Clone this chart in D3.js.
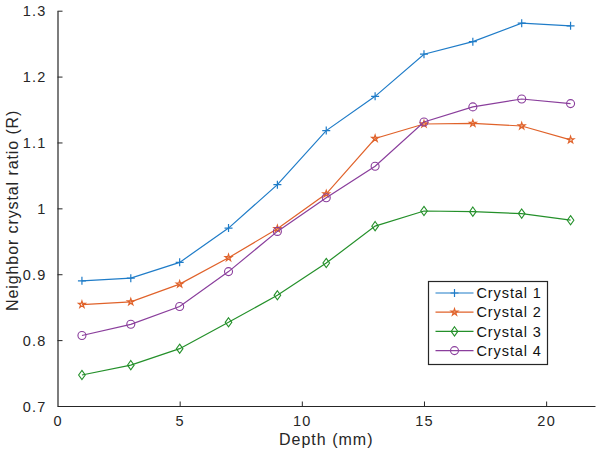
<!DOCTYPE html>
<html>
<head>
<meta charset="utf-8">
<script src="https://cdn.jsdelivr.net/npm/d3@7"></script>
<style>
  html, body { margin: 0; padding: 0; background: #fff; }
  svg { display: block; font-family: "Liberation Sans", Arial, Helvetica, sans-serif; }
</style>
</head>
<body>
<svg id="chart" width="600" height="452"></svg>
<script>
// ---- data ----
const depths = [1, 3, 5, 7, 9, 11, 13, 15, 17, 19, 21];
const crystal1 = [0.890, 0.894, 0.918, 0.970, 1.036, 1.118, 1.170, 1.234, 1.253, 1.281, 1.277];
const crystal2 = [0.854, 0.858, 0.885, 0.925, 0.969, 1.022, 1.106, 1.128, 1.129, 1.125, 1.104];
const crystal3 = [0.747, 0.762, 0.787, 0.827, 0.868, 0.917, 0.973, 0.996, 0.995, 0.992, 0.982];
const crystal4 = [0.807, 0.824, 0.851, 0.904, 0.965, 1.016, 1.064, 1.131, 1.154, 1.166, 1.159];
const seriesNames = ["Crystal 1", "Crystal 2", "Crystal 3", "Crystal 4"];
const xTicks = [0, 5, 10, 15, 20];
const yTicks = [0.7, 0.8, 0.9, 1.0, 1.1, 1.2, 1.3];
const xLabel = "Depth (mm)";
const yLabel = "Neighbor crystal ratio (R)";

// ---- styles ----
const colors = ["#1f7cc8", "#e0622a", "#24902a", "#8a3e9c"];
const markers = ["plus", "star", "diamond", "circle"];
const axisColor = "#262626";

const svg = d3.select("#chart");
const margin = { left: 57.5, right: 5, top: 10.7, bottom: 46 };
const W = 600, H = 452;

const x = d3.scaleLinear().domain([0, 22]).range([margin.left, W - margin.right]);
const y = d3.scaleLinear().domain([0.7, 1.3]).range([H - margin.bottom, margin.top]);

const series = [crystal1, crystal2, crystal3, crystal4].map((vals, i) => ({
  name: seriesNames[i], color: colors[i], marker: markers[i],
  points: depths.map((d, j) => ({ x: d, y: vals[j] }))
}));

// ---- axes ----
const xAxis = d3.axisBottom(x).tickValues(xTicks).tickSizeInner(-4.5).tickSizeOuter(0)
  .tickFormat(d3.format("d")).tickPadding(12);
const yAxis = d3.axisLeft(y).tickValues(yTicks).tickSizeInner(-5).tickSizeOuter(0)
  .tickFormat(d => d === 1 ? "1" : d3.format(".1f")(d)).tickPadding(11);

const gx = svg.append("g").attr("transform", `translate(0,${y(0.7)})`).call(xAxis);
const gy = svg.append("g").attr("transform", `translate(${x(0)},0)`).call(yAxis);
[gx, gy].forEach(g => {
  g.select(".domain").attr("stroke", axisColor).attr("stroke-width", 1.2);
  g.selectAll(".tick line").attr("stroke", axisColor).attr("stroke-width", 1);
  g.selectAll(".tick text").attr("fill", axisColor)
    .style("font-size", "14.5px").style("letter-spacing", "1.2px");
});
gx.selectAll(".tick").filter(d => d === 0).select("line").remove();
gx.selectAll(".tick text").attr("dy", "0.55em");
gy.selectAll(".tick text").attr("dy", "0.36em");

// axis titles
svg.append("text")
  .attr("x", x(11)).attr("y", 445)
  .attr("text-anchor", "middle").attr("fill", axisColor)
  .style("font-size", "16px").style("letter-spacing", "1px")
  .text(xLabel);
svg.append("text")
  .attr("transform", `translate(18,${y(0.997)}) rotate(-90)`)
  .attr("text-anchor", "middle").attr("fill", axisColor)
  .style("font-size", "16px").style("letter-spacing", "0.9px")
  .text(yLabel);

// ---- markers ----
function drawMarker(g, type, color) {
  if (type === "plus") {
    g.append("path").attr("d", "M-4,0H4M0,-4V4")
      .attr("stroke", color).attr("stroke-width", 1.2).attr("fill", "none");
  } else if (type === "star") {
    g.append("path").attr("d", d3.symbol().type(d3.symbolStar).size(14)())
      .attr("stroke", color).attr("stroke-width", 1.2).attr("fill", "none");
  } else if (type === "diamond") {
    g.append("path").attr("d", "M0,-4.6L3.3,0L0,4.6L-3.3,0Z")
      .attr("stroke", color).attr("stroke-width", 1.1).attr("fill", "none");
  } else if (type === "circle") {
    g.append("circle").attr("r", 4)
      .attr("stroke", color).attr("stroke-width", 1.1).attr("fill", "none");
  }
}

// ---- lines ----
const line = d3.line().x(d => x(d.x)).y(d => y(d.y));
series.forEach(s => {
  const g = svg.append("g");
  g.append("path").datum(s.points).attr("d", line)
    .attr("fill", "none").attr("stroke", s.color).attr("stroke-width", 1.2);
  s.points.forEach(p => {
    const mg = g.append("g").attr("transform", `translate(${x(p.x)},${y(p.y)})`);
    drawMarker(mg, s.marker, s.color);
  });
});

// ---- legend ----
const lg = svg.append("g").attr("transform", "translate(428.5,281.5)");
lg.append("rect").attr("width", 119).attr("height", 83)
  .attr("fill", "#fff").attr("stroke", axisColor).attr("stroke-width", 1.2);
series.forEach((s, i) => {
  const cy = 11.5 + i * 19.2;
  const row = lg.append("g").attr("transform", `translate(0,${cy})`);
  row.append("line").attr("x1", 7).attr("x2", 45).attr("y1", 0).attr("y2", 0)
    .attr("stroke", s.color).attr("stroke-width", 1.2);
  const mg = row.append("g").attr("transform", "translate(26,0)");
  drawMarker(mg, s.marker, s.color);
  row.append("text").attr("x", 48).attr("y", 0).attr("dy", "0.36em")
    .attr("fill", "#111").style("font-size", "14.5px").style("letter-spacing", "0.9px")
    .text(s.name);
});
</script>
</body>
</html>
